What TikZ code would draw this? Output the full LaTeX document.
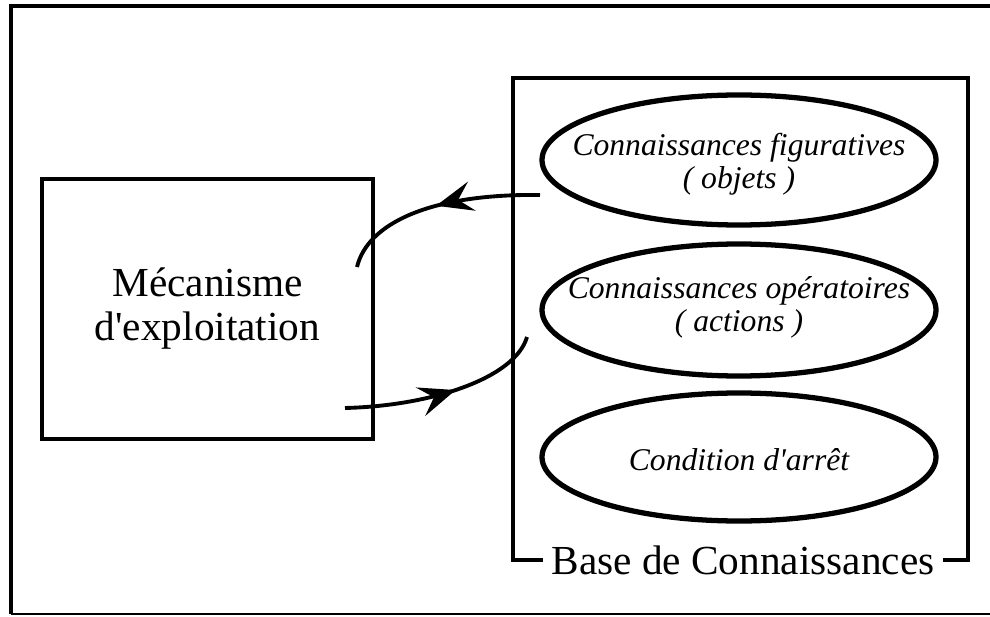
\documentclass[tikz,border=0pt]{standalone}
\usepackage{fontspec}
\setmainfont{Liberation Serif}
\usetikzlibrary{shapes.geometric,arrows.meta,decorations.markings}

\tikzset{
  kbitem/.style={draw,ellipse,line width=3pt,minimum width=7.88cm,minimum height=2.6cm,inner sep=0pt},
  kbtext/.style={align=center,inner sep=0pt,font=\fontsize{18}{18.5}\selectfont\itshape},
  flow/.style={line width=2.2pt,postaction={decorate},
    decoration={markings,mark=at position #1 with {\arrow{Stealth[length=21pt,width=17pt,inset=8pt]}}}},
  bigtext/.style={font=\fontsize{23.5}{25}\selectfont},
}

\begin{document}
\begin{tikzpicture}
\useasboundingbox (0,0) rectangle (19.8,12.32);
% outer frame
\draw[line width=2.2pt] (0.22,0.04) -- (0.22,12.2) -- (20.2,12.2);
\draw[line width=0.9pt] (0.22,0.04) -- (20.2,0.04);

% left box
\node[draw,line width=1.8pt,minimum width=6.62cm,minimum height=5.2cm,align=center,bigtext] (mech) at (4.15,6.14) {Mécanisme\\d\textquotesingle exploitation};

% knowledge base
\draw[line width=1.8pt] (10.26,1.12) rectangle (19.36,10.76);
\node[kbitem] (fig) at (14.78,9.12) {};
\node[kbitem,minimum height=2.64cm] (op) at (14.78,6.12) {};
\node[kbitem,minimum height=2.56cm] (stop) at (14.78,3.18) {};
\node[kbtext] (figtext) at ([yshift=-0.08cm]fig.center) {Connaissances figuratives\\( objets )};
\node[kbtext] (optext) at ([yshift=0.05cm]op.center) {Connaissances opératoires\\( actions )};
\node[kbtext] (stoptext) at ([yshift=-0.05cm]stop.center) {Condition d\textquotesingle arrêt};
\node[fill=white,inner xsep=5pt,inner ysep=1pt,bigtext] (kbname) at (14.86,1.12) {Base de Connaissances};

% arrows
\coordinate (outA) at (10.8,8.42);
\coordinate (inA) at (7.14,6.98);
\coordinate (outB) at (6.9,4.16);
\coordinate (inB) at (10.54,5.58);
\draw[flow=0.5] (outA) .. controls (8.6,8.45) and (7.35,7.85) .. (inA);
\draw[flow=0.55] (outB) .. controls (8.6,4.2) and (10.3,4.75) .. (inB);

\end{tikzpicture}
\end{document}
